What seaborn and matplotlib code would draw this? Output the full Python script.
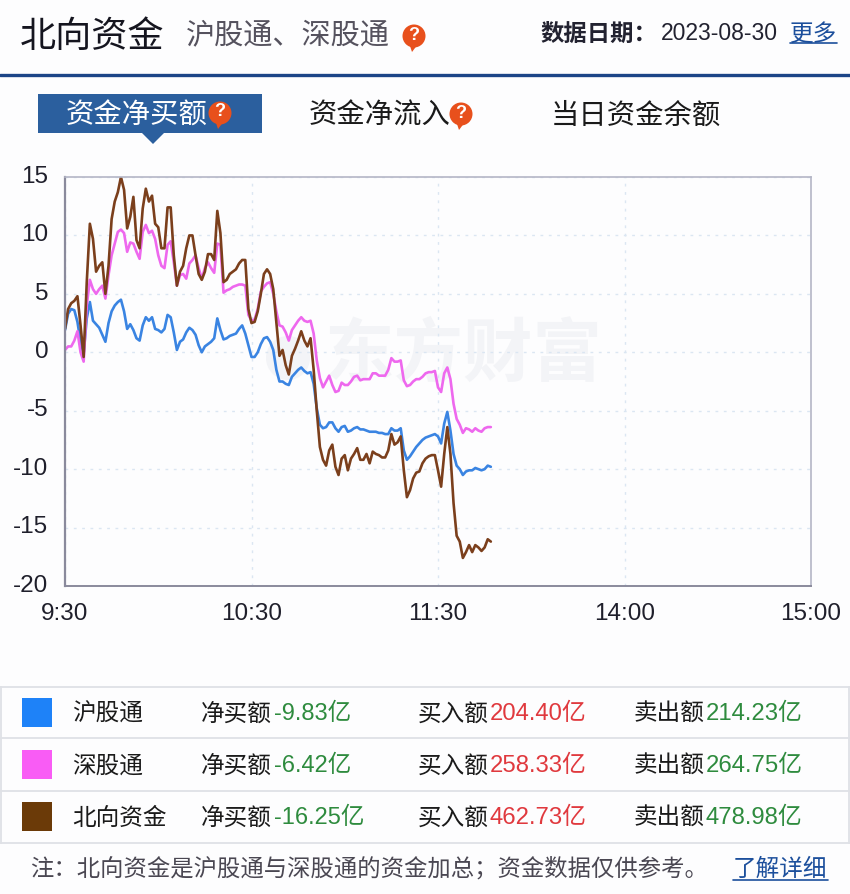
import numpy as np
import pandas as pd
import matplotlib
matplotlib.use("Agg")
import matplotlib.pyplot as plt
from matplotlib.patches import Rectangle, Circle, Polygon
from matplotlib.transforms import ScaledTranslation
import seaborn as sns

# ---- data -------------------------------------------------------------
sh_values = [
    1.9,3.3,3.7,3.6,2.6,0.9,-0.1,2.9,4.3,2.7,2.4,2.1,1.5,0.9,2.5,3.5,4.0,4.3,4.5,3.5,
    2.0,2.4,1.9,1.2,1.0,2.3,3.0,2.7,3.0,2.0,1.9,1.7,2.0,3.2,3.0,1.7,0.2,0.9,1.1,1.7,
    2.1,1.9,1.5,0.6,0.0,0.5,0.7,0.9,1.2,2.9,1.9,1.1,1.2,1.4,1.5,1.6,2.0,2.3,1.6,0.6,
    -0.4,-0.4,0.0,0.7,1.2,1.3,0.9,0.2,-1.5,-2.5,-2.5,-2.7,-2.8,
    -2.1,-1.8,-1.5,-1.3,-1.6,-1.8,-1.7,-2.7,-4.8,-6.2,-6.5,-6.4,-6.0,-6.0,-6.5,-6.8,-6.4,-6.3,
    -6.8,-6.7,-6.5,-6.4,-6.6,-6.6,-6.7,-6.8,-6.8,-6.8,-6.9,-6.9,-7.0,-7.0,-6.5,-6.7,-6.7,-6.5,
    -8.4,-9.2,-8.9,-8.5,-8.1,-7.8,-7.5,-7.3,-7.2,-7.1,-7.0,-7.2,-7.8,-6.1,-5.1,-6.7,-8.7,-9.7,
    -10.0,-10.5,-10.2,-10.1,-10.1,-9.9,-10.0,-10.1,-10.0,-9.7,-9.8]
sz_values = [
    0.2,0.5,0.5,1.0,1.8,0.0,-0.8,4.0,6.2,5.4,5.0,5.4,5.7,4.6,6.6,8.3,9.3,10.3,10.5,10.2,
    8.6,9.4,9.3,8.6,8.0,10.3,10.9,10.2,10.4,9.7,8.3,7.4,7.2,9.2,9.5,7.7,5.7,6.6,6.7,6.3,
    7.6,7.9,8.3,7.2,6.3,7.2,7.7,7.2,6.8,9.3,9.2,5.1,5.3,5.4,5.6,5.7,5.8,5.8,5.7,3.2,
    2.7,2.8,3.7,5.2,5.6,5.9,6.0,5.0,3.5,2.3,2.2,1.7,1.0,
    1.9,2.3,2.7,3.0,2.7,2.6,2.7,1.6,-0.7,-2.2,-3.0,-2.5,-2.0,-2.8,-3.4,-3.3,-2.6,-2.8,
    -2.8,-2.5,-2.1,-2.0,-2.4,-2.3,-2.3,-2.3,-1.8,-1.8,-2.0,-2.0,-2.0,-1.5,-0.5,-0.8,-0.8,-0.7,
    -2.4,-2.9,-2.8,-2.5,-2.3,-2.3,-2.1,-1.8,-1.7,-1.7,-1.6,-3.0,-3.4,-1.8,-1.3,-2.3,-4.4,-5.7,
    -6.2,-6.9,-6.5,-6.6,-6.8,-6.5,-6.7,-6.8,-6.5,-6.4,-6.4]
north_values = [
    2.0,3.7,4.2,4.4,4.8,2.3,-0.4,6.0,11.0,9.7,6.9,7.4,7.7,5.0,7.4,11.4,12.9,13.7,15.0,13.9,
    10.6,11.6,13.3,9.6,8.9,12.3,14.0,12.9,13.4,11.0,10.7,8.9,8.9,12.4,12.4,8.3,5.7,6.9,7.4,8.9,
    10.0,10.0,8.3,6.7,6.2,6.9,8.4,8.4,7.9,12.1,10.2,6.0,6.2,6.7,6.9,7.1,7.6,7.9,7.9,3.7,
    2.5,2.6,3.5,5.0,6.7,7.1,6.7,5.4,2.6,-0.3,0.2,-1.1,-1.9,
    -0.3,0.3,1.0,1.8,1.0,0.5,1.2,-1.5,-5.0,-8.1,-9.2,-9.7,-8.4,-7.9,-9.8,-10.5,-9.1,-8.8,
    -10.1,-9.1,-8.7,-8.2,-9.2,-9.2,-8.7,-9.5,-8.5,-8.7,-8.8,-9.0,-9.0,-8.4,-7.0,-7.9,-7.7,-7.2,
    -10.1,-12.4,-11.8,-10.8,-10.3,-10.2,-9.5,-9.1,-8.9,-8.8,-8.8,-10.1,-11.5,-8.7,-6.4,-8.7,-12.9,-15.7,
    -16.2,-17.6,-17.1,-16.5,-17.1,-16.5,-16.7,-17.0,-16.7,-16.0,-16.2]

series_names = ["沪股通", "深股通", "北向资金"]
net_labels = ["-9.83亿", "-6.42亿", "-16.25亿"]
buy_labels = ["204.40亿", "258.33亿", "462.73亿"]
sell_labels = ["214.23亿", "264.75亿", "478.98亿"]
x_tick_minutes = [0, 60, 120, 180, 240]
x_tick_labels = ["9:30", "10:30", "11:30", "14:00", "15:00"]
y_ticks = [15, 10, 5, 0, -5, -10, -15, -20]
y_tick_labels = ["15", "10", "5", "0", "-5", "-10", "-15", "-20"]
tabs = ["资金净买额", "资金净流入", "当日资金余额"]

# ---- style ------------------------------------------------------------
sns.set_theme(style="white")
plt.rcParams["font.family"] = ["Noto Sans CJK SC", "DejaVu Sans"]
NUM = ["Liberation Sans", "Noto Sans CJK SC"]
line_colors = {"沪股通": "#3a84e2", "深股通": "#ee68ee", "北向资金": "#7b3f1c"}
swatch_colors = ["#1e82f8", "#f95cf5", "#6b3a08"]

W, H = 850, 894
fig = plt.figure(figsize=(W / 100, H / 100), dpi=100, facecolor="#fdfdfe")

page = fig.add_axes([0, 0, 1, 1], zorder=0)
page.set_xlim(0, W); page.set_ylim(H, 0); page.axis("off")

def label(x, y, s, size=17, color="#1a1a1a", ha="left", family=None, **kw):
    return page.text(x, y, s, fontsize=size, color=color, ha=ha, va="center",
                     family=family or plt.rcParams["font.family"], **kw)

def hint(cx, cy):
    page.add_patch(Circle((cx, cy), 11.5, color="#e8501c", lw=0))
    page.add_patch(Polygon([(cx - 5, cy + 7), (cx + 4, cy + 8), (cx - 2, cy + 16)],
                           color="#e8501c", lw=0))
    label(cx, cy - 1, "?", size=13, color="white", ha="center", family=NUM, weight="bold")

# header
label(20, 37, "北向资金", size=26, color="#15151f")
label(186, 36, "沪股通、深股通", size=21, color="#55525e")
hint(414, 36)
label(540, 34, "数据日期：", size=16.8, color="#222230", weight="bold")
label(661, 33, "2023-08-30", size=16.5, color="#222230", family=NUM)
label(790, 34, "更多", size=17, color="#1c4f9c")
page.plot([790, 837], [43, 43], color="#1c4f9c", lw=1.2)
page.plot([0, W], [75, 75], color="#1c4587", lw=2.4)

# tabs
page.add_patch(Rectangle((38, 94), 224, 39, color="#2b5f9e", lw=0))
page.add_patch(Polygon([(142, 133), (164, 133), (153, 144)], color="#2b5f9e", lw=0))
label(66, 116, tabs[0], size=20.4, color="white")
hint(220, 113)
label(309, 116, tabs[1], size=20.4, color="#1a1a1a")
hint(461, 114)
label(551, 116, tabs[2], size=20.4, color="#1a1a1a")

# watermark
label(325, 355, "东方财富", size=50, color="#f3f4f7", weight="bold", zorder=5)
page.add_patch(Circle((288, 358), 22, color="#f3f4f7", lw=0, zorder=5))

# legend table
row_lines = [687, 738, 791, 843]
for y in row_lines:
    page.plot([0, W], [y, y], color="#dfe1e6", lw=1.3)
page.plot([0.5, 0.5], [687, 843], color="#dfe1e6", lw=1.3)
page.plot([849, 849], [687, 843], color="#dfe1e6", lw=1.3)
row_top = [698, 750, 802]
row_mid = [714, 766, 818]
for i, name in enumerate(series_names):
    page.add_patch(Rectangle((22, row_top[i]), 30, 29, color=swatch_colors[i], lw=0))
    label(72, row_mid[i], name, size=17)
    label(201, row_mid[i], "净买额", size=17)
    label(274, row_mid[i], net_labels[i], size=17, color="#2e8b3e", family=NUM)
    label(418, row_mid[i], "买入额", size=17)
    label(490, row_mid[i], buy_labels[i], size=17.2, color="#e0393e", family=NUM)
    label(634, row_mid[i], "卖出额", size=17)
    label(706, row_mid[i], sell_labels[i], size=17.2, color="#2e8b3e", family=NUM)

# footnote
label(30, 869, "注：北向资金是沪股通与深股通的资金加总；资金数据仅供参考。", size=16.8, color="#4a4752")
label(733, 869, "了解详细", size=17, color="#1c4f9c")
page.plot([733, 828], [880, 880], color="#1c4f9c", lw=1.2)

# ---- chart ------------------------------------------------------------
minutes = np.arange(len(north_values))
df = pd.DataFrame({
    "minute": np.tile(minutes, 3),
    "value": sh_values + sz_values + north_values,
    "series": np.repeat(series_names, len(minutes)),
})

ax = fig.add_axes([65 / W, 1 - 586 / H, (811 - 65) / W, (586 - 177) / H], zorder=2)
ax.patch.set_alpha(0)
sns.lineplot(data=df, x="minute", y="value", hue="series", hue_order=series_names,
             palette=line_colors, lw=1.9, legend=False, ax=ax, errorbar=None)
ax.set_xlim(0, 240); ax.set_ylim(-20, 15)
ax.set_xticks(x_tick_minutes, x_tick_labels)
ax.set_yticks(y_ticks, y_tick_labels)
ax.set_xlabel(""); ax.set_ylabel("")
ax.tick_params(length=0, labelsize=17.5, labelcolor="#1f1f2b")
ax.tick_params(axis="x", pad=12)
ax.tick_params(axis="y", pad=12)
for t in ax.get_xticklabels() + ax.get_yticklabels():
    t.set_family(NUM)
up = ScaledTranslation(0, 2 / 72, fig.dpi_scale_trans)
for t in ax.get_yticklabels():
    t.set_transform(t.get_transform() + up)
ax.grid(True, ls=(0, (2, 4)), lw=1, color="#dbe6f2")
ax.set_axisbelow(True)
for side, s in ax.spines.items():
    s.set_color("#b4b6c6"); s.set_linewidth(1.2); s.set_visible(True)
ax.spines["left"].set_color("#8a8a9c")
ax.spines["left"].set_linewidth(1.6)
ax.spines["bottom"].set_color("#8a8a9c")
ax.spines["bottom"].set_linewidth(1.4)

fig.savefig("out.png", dpi=100, facecolor=fig.get_facecolor())
